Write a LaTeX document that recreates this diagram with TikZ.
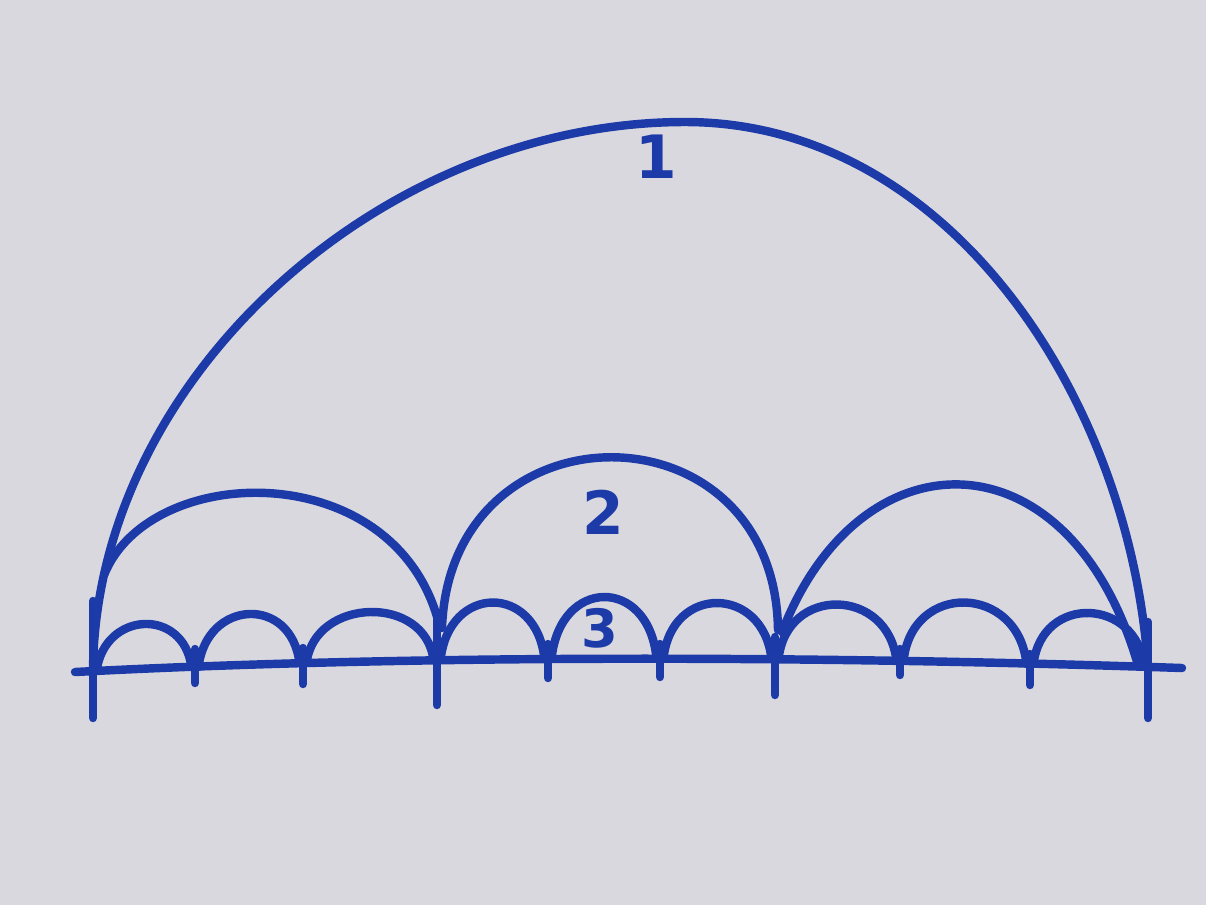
\documentclass[tikz,border=0pt]{standalone}
\usepackage{fontspec}
\setsansfont{DejaVu Sans}
\usepackage{tikz}
\usetikzlibrary{positioning}
\definecolor{paper}{RGB}{218,216,223}
\definecolor{ink}{RGB}{28,58,168}

\begin{document}
\begin{tikzpicture}[
    x=0.01cm, y=-0.01cm,
    pen/.style={draw=ink, line width=2.4pt, line cap=round, line join=round},
    digit/.style={text=ink, font=\sffamily\bfseries\fontsize{17}{17}\selectfont, inner sep=0pt},
  ]
    \fill[paper] (0,0) rectangle (1206,905);
    \useasboundingbox (0,0) rectangle (1206,905);

    % points on the base line
    \coordinate (b0) at (75,672);
    \coordinate (b1) at (1182,668);
    \foreach \n/\x/\y in {0/93/671,1/195/667,2/303/663,3/437/660,4/548/659,
                          5/660/658,6/775/659,7/900/661,8/1030/664,9/1148/667}{
      \coordinate (t\n) at (\x,\y);
    }

    % base line and ticks
    \draw[pen] (b0) .. controls (400,655) and (800,655) .. (b1);
    \foreach \n/\up/\down in {0/70/47,1/18/16,2/15/21,3/40/45,4/15/19,
                              5/14/19,6/22/36,7/12/14,8/10/21,9/45/51}{
      \draw[pen] (t\n) -- +(0,-\up);
      \draw[pen] (t\n) -- +(0,\down);
    }

    % level 3
    \foreach \a/\b/\h in {0/1/60,1/2/68,2/3/66,3/4/76,4/5/82,
                          5/6/74,6/7/74,7/8/80,8/9/70}{
      \draw[pen] ([xshift=1pt]t\a) .. controls +(8,-\h) and +(-8,-\h) .. ([xshift=-1pt]t\b);
    }

    % level 2
    \coordinate (a0) at (104,575);
    \coordinate (a1) at (440,628);
    \coordinate (c0) at (442,628);
    \coordinate (c1) at (778,630);
    \coordinate (d0) at (782,632);
    \coordinate (d1) at (1138,665);
    \draw[pen] (a0) .. controls (150,460) and (400,455) .. (a1);
    \draw[pen] (c0) .. controls (450,400) and (775,400) .. (c1);
    \draw[pen] (d0) .. controls (860,430) and (1070,430) .. (d1);

    % level 1
    \coordinate (top) at (685,122);
    \draw[pen] (t0) .. controls (95,380) and (380,122) .. (top)
                    .. controls (950,122) and (1130,400) .. (t9);

    \node[digit] (lab1) at (656,157) {1};
    \node[digit] (lab2) at (603,512) {2};
    \node[digit, font=\sffamily\bfseries\fontsize{15}{15}\selectfont] (lab3) at (600,628) {3};
  \end{tikzpicture}
\end{document}
